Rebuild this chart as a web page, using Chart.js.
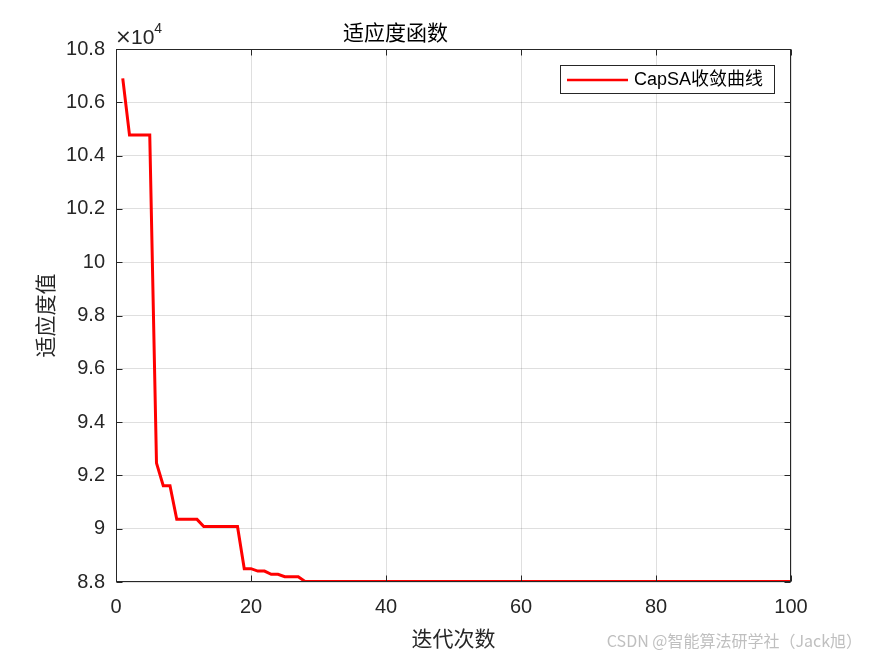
<!DOCTYPE html>
<html>
<head>
<meta charset="utf-8">
<script src="https://cdn.jsdelivr.net/npm/chart.js@4.4.1/dist/chart.umd.min.js"></script>
<style>
html,body{margin:0;padding:0;background:#fff;}
#wrap{width:875px;height:656px;}
</style>
</head>
<body>
<div id="wrap"><canvas id="c" width="875" height="656"></canvas></div>
<script>
// ---- data ----
const iterations = Array.from({length: 100}, (_, i) => i + 1);
const fitness = [
  106900, 104770, 104770, 104770, 104770, 92460, 91610, 91610, 90350, 90350,
  90350, 90350, 90080, 90080, 90080, 90080, 90080, 90080, 88500, 88500,
  88410, 88410, 88290, 88290, 88200, 88200, 88200, 88020, 88020, 88020,
  88020, 88020, 88020, 88020, 88020, 88020, 88020, 88020, 88020, 88020,
  88020, 88020, 88020, 88020, 88020, 88020, 88020, 88020, 88020, 88020,
  88020, 88020, 88020, 88020, 88020, 88020, 88020, 88020, 88020, 88020,
  88020, 88020, 88020, 88020, 88020, 88020, 88020, 88020, 88020, 88020,
  88020, 88020, 88020, 88020, 88020, 88020, 88020, 88020, 88020, 88020,
  88020, 88020, 88020, 88020, 88020, 88020, 88020, 88020, 88020, 88020,
  88020, 88020, 88020, 88020, 88020, 88020, 88020, 88020, 88020, 88020
];
const xTickValues = [0, 20, 40, 60, 80, 100];
const yTickValues = [88000, 90000, 92000, 94000, 96000, 98000, 100000, 102000, 104000, 106000, 108000];
const yTickLabels = ['8.8', '9', '9.2', '9.4', '9.6', '9.8', '10', '10.2', '10.4', '10.6', '10.8'];
const seriesName = 'CapSA收敛曲线';
const chartTitle = '适应度函数';
const xTitle = '迭代次数';
const yTitle = '适应度值';
const exponentTimes = '×';
const exponentBase = '10';
const exponentPow = '4';
const watermark = 'CSDN @智能算法研学社（Jack旭）';

const AX = '#262626';
const NUM_FONT = '"Liberation Sans", Arial, "Noto Sans CJK SC", sans-serif';
const CJK_FONT = '"Noto Sans CJK SC", "Liberation Sans", sans-serif';

const decor = {
  id: 'decor',
  afterDraw(chart) {
    const {ctx, chartArea: ca, scales: {x, y}} = chart;
    ctx.save();
    ctx.strokeStyle = AX;
    ctx.lineWidth = 1;
    const L = Math.round(ca.left) + 0.5, R = Math.round(ca.right) - 0.5;
    const T = Math.round(ca.top) + 0.5, B = Math.round(ca.bottom) - 0.5;
    ctx.beginPath();
    x.ticks.forEach(t => {
      const p = Math.round(x.getPixelForValue(t.value)) + 0.5;
      ctx.moveTo(p, B); ctx.lineTo(p, B - 6);
      ctx.moveTo(p, T); ctx.lineTo(p, T + 6);
    });
    y.ticks.forEach(t => {
      const p = Math.round(y.getPixelForValue(t.value)) + 0.5;
      ctx.moveTo(L, p); ctx.lineTo(L + 6, p);
      ctx.moveTo(R, p); ctx.lineTo(R - 6, p);
    });
    ctx.stroke();
    ctx.strokeRect(L, T, R - L, B - T);

    // exponent label
    ctx.fillStyle = AX;
    ctx.textBaseline = 'alphabetic';
    ctx.textAlign = 'left';
    ctx.font = '20px "DejaVu Sans", sans-serif';
    ctx.fillText(exponentTimes, 115, 43);
    ctx.font = '21px ' + NUM_FONT;
    ctx.fillText(exponentBase, 131, 44);
    const w = ctx.measureText(exponentBase).width;
    ctx.font = '14px ' + NUM_FONT;
    ctx.fillText(exponentPow, 131 + w, 33);

    // legend box
    const bx = 560.5, by = 65.5, bw = 214, bh = 28;
    ctx.fillStyle = '#fff';
    ctx.fillRect(bx, by, bw, bh);
    ctx.strokeStyle = AX;
    ctx.strokeRect(bx, by, bw, bh);
    ctx.strokeStyle = '#ff0000';
    ctx.lineWidth = 2.5;
    ctx.beginPath();
    ctx.moveTo(567, 80); ctx.lineTo(628, 80);
    ctx.stroke();
    ctx.fillStyle = '#000';
    ctx.font = '18px ' + NUM_FONT;
    ctx.textBaseline = 'middle';
    ctx.fillText(seriesName, 634, 80);

    // watermark
    ctx.font = '16px ' + CJK_FONT;
    ctx.fillStyle = 'rgba(170,170,170,0.75)';
    ctx.textAlign = 'right';
    ctx.fillText(watermark, 862, 641);
    ctx.restore();
  }
};

new Chart(document.getElementById('c'), {
  type: 'line',
  data: {
    datasets: [{
      label: seriesName,
      data: iterations.map((it, i) => ({x: it, y: fitness[i]})),
      borderColor: '#ff0000',
      borderWidth: 3,
      pointRadius: 0,
      fill: false,
      tension: 0
    }]
  },
  options: {
    responsive: false,
    animation: false,
    devicePixelRatio: 1,
    layout: {padding: {left: 0, right: 84, top: 0, bottom: 0}},
    plugins: {
      legend: {display: false},
      tooltip: {enabled: false},
      title: {
        display: true,
        text: chartTitle,
        color: '#000',
        font: {family: CJK_FONT, size: 21, weight: 'normal'},
        padding: {top: 19.4, bottom: 4.4}
      }
    },
    scales: {
      x: {
        type: 'linear',
        min: 0, max: 100,
        afterBuildTicks: s => { s.ticks = xTickValues.map(v => ({value: v})); },
        afterFit: s => { s.height = 74; },
        ticks: {color: AX, font: {family: NUM_FONT, size: 20}, padding: 13, maxRotation: 0},
        grid: {color: 'rgba(38,38,38,0.15)', drawTicks: false},
        border: {display: false},
        title: {display: true, text: xTitle, color: AX, font: {family: CJK_FONT, size: 21}, padding: {top: 0, bottom: 5.4}}
      },
      y: {
        type: 'linear',
        min: 88000, max: 108000,
        afterBuildTicks: s => { s.ticks = yTickValues.map(v => ({value: v})); },
        afterFit: s => { s.width = 116; },
        ticks: {
          color: AX, font: {family: NUM_FONT, size: 20}, padding: 11,
          callback: v => yTickLabels[yTickValues.indexOf(v)]
        },
        grid: {color: 'rgba(38,38,38,0.15)', drawTicks: false},
        border: {display: false},
        title: {display: true, text: yTitle, color: AX, font: {family: CJK_FONT, size: 21}, padding: {top: 32.4, bottom: 0}}
      }
    }
  },
  plugins: [decor]
});
</script>
</body>
</html>
